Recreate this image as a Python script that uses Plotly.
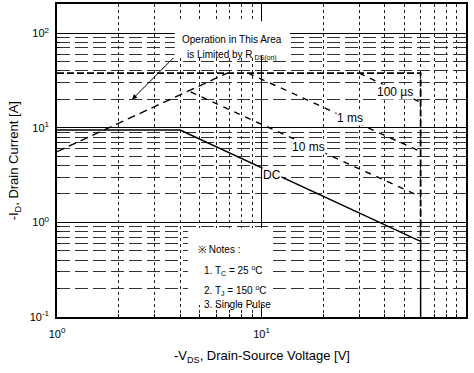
import math
import plotly.graph_objects as go

# ---- data ----
vds_dc = [1.0, 4.0, 60.0, 60.0]
id_dc = [9.5, 9.5, 0.63, 0.1]

vds_rds = [1.0, 6.8]
id_rds = [5.6, 38.0]

vds_idm = [1.0, 60.0, 60.0]
id_idm = [38.0, 38.0, 0.63]

vds_100us = [30.0, 60.0]
id_100us = [38.0, 18.6]

vds_1ms = [8.6, 60.0]
id_1ms = [38.0, 5.6]

vds_10ms = [4.5, 60.0]
id_10ms = [24.0, 1.87]

SUP = "<sup><span style='font-size:8px'>{}</span></sup>"
x_tickvals = [1, 10, 100]
x_ticktext = ["10" + SUP.format("0"), "10" + SUP.format("1"), "10" + SUP.format("2")]
y_tickvals = [0.1, 1, 10, 100]
y_ticktext = ["10" + SUP.format("-1"), "10" + SUP.format("0"), "10" + SUP.format("1"), "10" + SUP.format("2")]

FONT = "Liberation Sans, Arial, sans-serif"

fig = go.Figure()

def add_line(x, y, dash, width=1.5):
    fig.add_trace(go.Scatter(x=x, y=y, mode="lines", showlegend=False,
                             line=dict(color="black", width=width, dash=dash),
                             hoverinfo="skip"))

add_line(vds_idm, id_idm, "7px,3px", 1.8)
add_line(vds_rds, id_rds, "8px,5px", 1.4)
add_line(vds_100us, id_100us, "6px,6px", 1.4)
add_line(vds_1ms, id_1ms, "6px,6px", 1.4)
add_line(vds_10ms, id_10ms, "6px,6px", 1.4)
add_line(vds_dc, id_dc, "solid", 1.5)

lg = math.log10

# white box behind the notes
fig.add_shape(type="rect", xref="paper", yref="paper", x0=0.32, x1=0.528, y0=0.038, y1=0.284,
              fillcolor="white", line=dict(width=0), layer="above")
# white box behind Rds annotation
fig.add_shape(type="rect", xref="paper", yref="paper", x0=0.288, x1=0.57, y0=0.835, y1=0.945,
              fillcolor="white", line=dict(width=0), layer="above")

ann_font = dict(family=FONT, size=10, color="black")

fig.add_annotation(xref="paper", yref="paper", x=0.428, y=0.912, text="Operation in This Area",
                   showarrow=False, font=ann_font)
fig.add_annotation(xref="paper", yref="paper", x=0.428, y=0.862,
                   text="is Limited by R<sub><span style='font-size:7px'> DS(on)</span></sub>",
                   showarrow=False, font=ann_font)
fig.add_annotation(xref="x", yref="y", x=lg(2.33), y=lg(20), axref="x", ayref="y",
                   ax=0.577, ay=1.757, text="", showarrow=True, arrowhead=2,
                   arrowsize=1, arrowwidth=1, arrowcolor="black")

label_font = dict(family=FONT, size=12, color="black")
for txt, xv, yv in [("100 µs", 45, 23.8), ("1 ms", 27, 12.6), ("10 ms", 16.9, 6.25), ("DC", 11.2, 3.2)]:
    fig.add_annotation(xref="x", yref="y", x=lg(xv), y=lg(yv), text=txt, showarrow=False,
                       font=label_font, bgcolor="white", borderpad=0)

notes = [("※ Notes :", 0.215, 0.34),
         ("1. T<sub>C</sub> = 25 <sup>o</sup>C", 0.15, 0.355),
         ("2. T<sub>J</sub> = 150 <sup>o</sup>C", 0.085, 0.355),
         ("3. Single Pulse", 0.04, 0.355)]
for txt, yp, xp in notes:
    fig.add_annotation(xref="paper", yref="paper", x=xp, y=yp, text=txt, showarrow=False,
                       xanchor="left", yanchor="middle", font=ann_font)

# axis titles
title_font = dict(family=FONT, size=13, color="black")
fig.add_annotation(xref="paper", yref="paper", x=0.5, y=-0.125,
                   text="-V<sub>DS</sub>, Drain-Source Voltage [V]", showarrow=False,
                   font=title_font, yanchor="middle")
fig.add_annotation(xref="paper", yref="paper", x=-0.103, y=0.5, textangle=-90,
                   text="-I<sub>D</sub>, Drain Current [A]", showarrow=False,
                   font=title_font, xanchor="center", yanchor="middle")

axis_common = dict(
    type="log", showline=True, linecolor="black", linewidth=1.5, mirror=True,
    showgrid=True, gridcolor="black", gridwidth=1, automargin=False,
    ticks="inside", ticklen=4, tickcolor="black", zeroline=False,
    tickfont=dict(family=FONT, size=11, color="black"),
)

fig.update_xaxes(**axis_common, range=[0, 2], tickvals=x_tickvals, ticktext=x_ticktext,
                 ticklabelstandoff=6,
                 minor=dict(dtick="D1", showgrid=True, gridcolor="#222", griddash="dot",
                            gridwidth=1, ticks="inside", ticklen=3, tickcolor="black"))
fig.update_yaxes(**axis_common, range=[-1, 2.31], tickvals=y_tickvals, ticktext=y_ticktext,
                 ticklabelstandoff=4,
                 minor=dict(dtick="D1", showgrid=True, gridcolor="#333", griddash="13px,5px",
                            gridwidth=1, ticks="inside", ticklen=3, tickcolor="black"))

fig.update_layout(width=474, height=373, margin=dict(l=57, r=8, t=4, b=56),
                  paper_bgcolor="white", plot_bgcolor="white", showlegend=False,
                  font=dict(family=FONT))

fig.write_html("out.html", config={"displayModeBar": False},
               post_script="document.body.style.margin='0px';document.body.style.overflow='hidden';")
